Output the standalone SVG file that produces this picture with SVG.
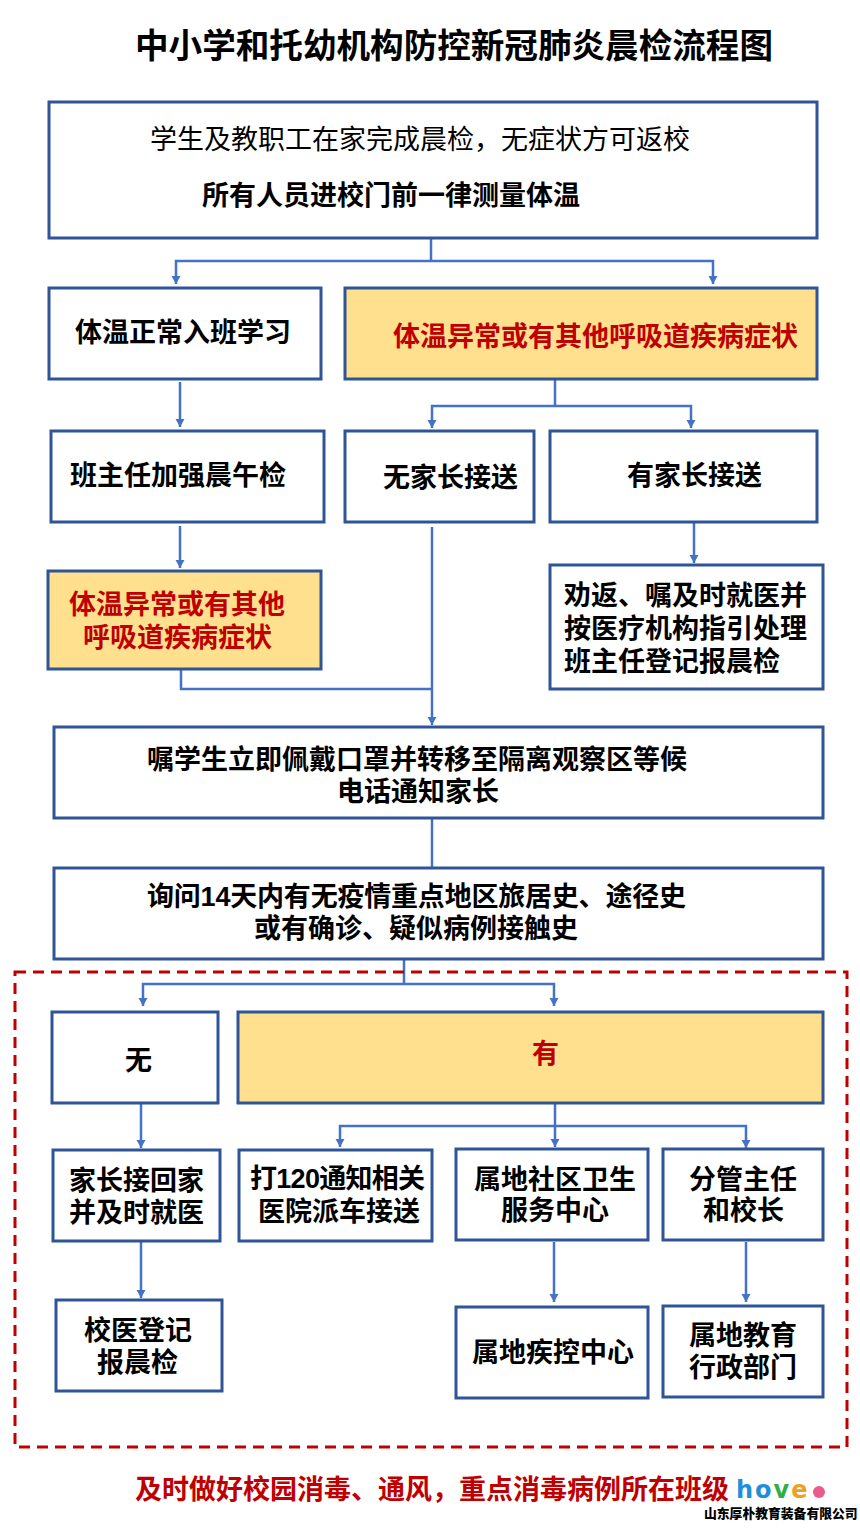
<svg xmlns="http://www.w3.org/2000/svg" width="860" height="1528" viewBox="0 0 860 1528">
<style>
text{font-family:"Liberation Sans","Noto Sans CJK SC",sans-serif;font-size:27px;fill:#000;font-weight:700}
.n{font-weight:400}
.r{fill:#c00000}
.t{font-size:33.6px}
.b{fill:#fff;stroke:#2f5597;stroke-width:3}
.y{fill:#ffe08f;stroke:#2f5597;stroke-width:3}
.c{fill:none;stroke:#4472c4;stroke-width:2.5}
.a{fill:none;stroke:#4472c4;stroke-width:2.5;marker-end:url(#h)}
</style>
<defs><marker id="h" markerUnits="userSpaceOnUse" markerWidth="10" markerHeight="10" refX="8" refY="5" orient="auto"><path d="M0 0.5L8 5L0 9.5z" fill="#4472c4"/></marker></defs>
<rect width="860" height="1528" fill="#fff"/>
<g id="title"><text class="t" x="135" y="58">中小学和托幼机构防控新冠肺炎晨检流程图</text></g>
<g id="connectors">
<path class="c" d="M431 238V261"/>
<path class="a" d="M431 261H713V284"/>
<path class="a" d="M431 261H176V284"/>
<path class="a" d="M180 382V427"/>
<path class="c" d="M555 380V406"/>
<path class="a" d="M555 406H432V428"/>
<path class="a" d="M555 406H691V428"/>
<path class="a" d="M180 526V568"/>
<path class="a" d="M694 523V563"/>
<path class="c" d="M181 670V689H432"/>
<path class="a" d="M432 527V725"/>
<path class="c" d="M432 819V867"/>
<path class="c" d="M404 960V984"/>
<path class="a" d="M404 984H554V1006"/>
<path class="a" d="M404 984H143V1006"/>
<path class="a" d="M141 1104V1148"/>
<path class="a" d="M555 1103V1147"/>
<path class="a" d="M555 1126H746V1148"/>
<path class="a" d="M555 1126H340V1147"/>
<path class="a" d="M141 1242V1298"/>
<path class="a" d="M554 1242V1302"/>
<path class="a" d="M746 1242V1302"/>
</g>
<rect id="dashed-region" x="15" y="972" width="832" height="475" fill="none" stroke="#c00000" stroke-width="3" stroke-dasharray="11 7"/>
<g id="n1"><rect class="b" x="49" y="102" width="768" height="136"/><text class="n" x="150" y="149">学生及教职工在家完成晨检，无症状方可返校</text><text x="202" y="205">所有人员进校门前一律测量体温</text></g>
<g id="n2"><rect class="b" x="49" y="288" width="272" height="91"/><text x="75" y="342">体温正常入班学习</text></g>
<g id="n3"><rect class="y" x="345" y="288" width="472" height="91"/><text class="r" x="393" y="346">体温异常或有其他呼吸道疾病症状</text></g>
<g id="n4"><rect class="b" x="51" y="431" width="273" height="91"/><text x="70" y="485">班主任加强晨午检</text></g>
<g id="n5"><rect class="b" x="345" y="431" width="189" height="91"/><text x="383" y="487">无家长接送</text></g>
<g id="n6"><rect class="b" x="550" y="431" width="267" height="91"/><text x="627" y="485">有家长接送</text></g>
<g id="n7"><rect class="y" x="48" y="571" width="273" height="98"/><text class="r" x="69" y="614">体温异常或有其他</text><text class="r" x="83" y="647">呼吸道疾病症状</text></g>
<g id="n8"><rect class="b" x="550" y="565" width="273" height="124"/><text x="564" y="605">劝返、嘱及时就医并</text><text x="564" y="638">按医疗机构指引处理</text><text x="564" y="671">班主任登记报晨检</text></g>
<g id="n9"><rect class="b" x="54" y="727" width="769" height="91"/><text x="147" y="769">嘱学生立即佩戴口罩并转移至隔离观察区等候</text><text x="337" y="801">电话通知家长</text></g>
<g id="n10"><rect class="b" x="54" y="868" width="769" height="91"/><text x="147" y="906" textLength="539">询问14天内有无疫情重点地区旅居史、途径史</text><text x="254" y="938">或有确诊、疑似病例接触史</text></g>
<g id="n11"><rect class="b" x="52" y="1012" width="166" height="91"/><text x="125" y="1070">无</text></g>
<g id="n12"><rect class="y" x="238" y="1012" width="585" height="91"/><text class="r" x="532" y="1063">有</text></g>
<g id="n13"><rect class="b" x="53" y="1150" width="167" height="91"/><text x="69" y="1190">家长接回家</text><text x="69" y="1222">并及时就医</text></g>
<g id="n14"><rect class="b" x="239" y="1150" width="193" height="91"/><text x="250" y="1188" textLength="175">打120通知相关</text><text x="258" y="1221">医院派车接送</text></g>
<g id="n15"><rect class="b" x="456" y="1149" width="192" height="91"/><text x="474" y="1189">属地社区卫生</text><text x="501" y="1220">服务中心</text></g>
<g id="n16"><rect class="b" x="663" y="1149" width="160" height="91"/><text x="689" y="1189">分管主任</text><text x="703" y="1220">和校长</text></g>
<g id="n17"><rect class="b" x="56" y="1300" width="166" height="91"/><text x="84" y="1340">校医登记</text><text x="97" y="1372">报晨检</text></g>
<g id="n18"><rect class="b" x="456" y="1307" width="192" height="91"/><text x="472" y="1362">属地疾控中心</text></g>
<g id="n19"><rect class="b" x="663" y="1306" width="160" height="91"/><text x="689" y="1345">属地教育</text><text x="689" y="1377">行政部门</text></g>
<g id="footer"><text class="r" x="135" y="1499">及时做好校园消毒、通风，重点消毒病例所在班级</text>
<text x="736" y="1498" style="font-family:'DejaVu Sans',sans-serif;font-size:24px;font-weight:700;letter-spacing:2px"><tspan fill="#1f8fd8">ho</tspan><tspan fill="#2fae4a">v</tspan><tspan fill="#f0a020">e</tspan></text>
<circle cx="819" cy="1492" r="6" fill="#ec5a8c"/>
<text x="704" y="1518" style="font-size:12.8px;font-weight:900">山东厚朴教育装备有限公司</text></g>
</svg>
